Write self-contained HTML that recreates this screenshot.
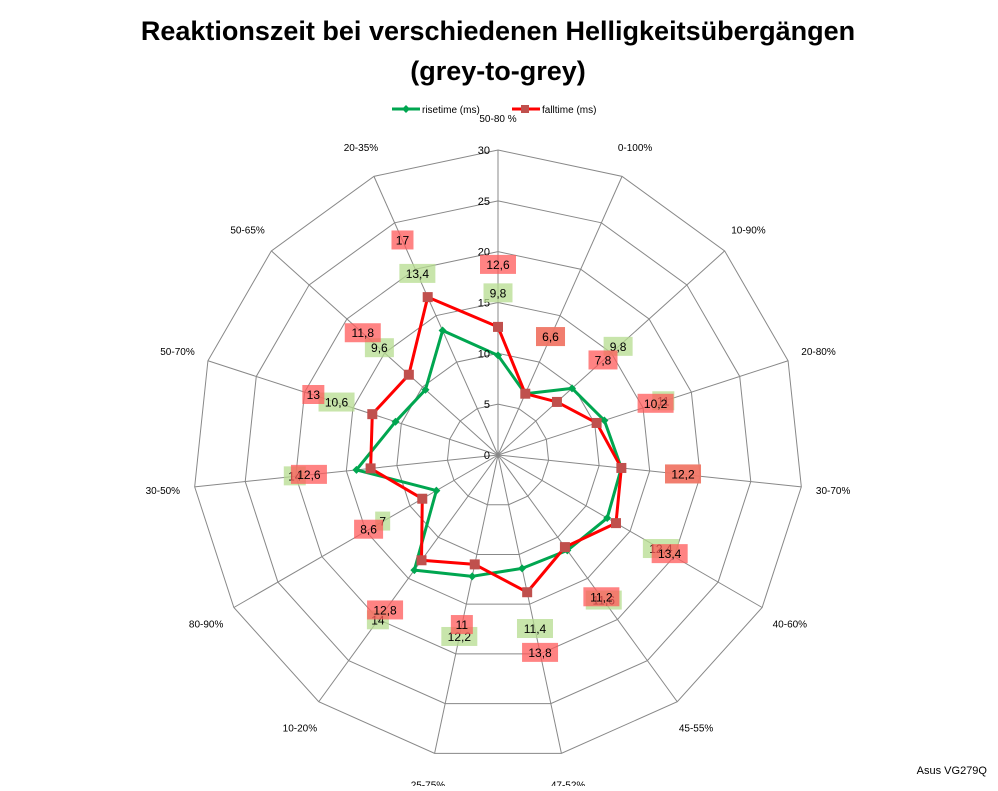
<!DOCTYPE html>
<html><head><meta charset="utf-8"><style>
body{margin:0;background:#fff;}
svg text{font-family:"Liberation Sans",sans-serif;}
</style></head><body>
<svg id="chart" width="998" height="786" viewBox="0 0 998 786" xmlns="http://www.w3.org/2000/svg">
<text x="498" y="40" text-anchor="middle" font-size="27" font-weight="bold">Reaktionszeit bei verschiedenen Helligkeitsübergängen</text>
<text x="498" y="80" text-anchor="middle" font-size="27" font-weight="bold">(grey-to-grey)</text>
<g>
<g>
<line x1="392" y1="109" x2="420" y2="109" stroke="#00a650" stroke-width="3"/>
<path d="M406 105 L410 109 L406 113 L402 109Z" fill="#00a650"/>
<text x="422" y="113" font-size="10">risetime (ms)</text></g>
<g>
<line x1="512" y1="109" x2="540" y2="109" stroke="#ff0000" stroke-width="3"/>
<rect x="521" y="105" width="8" height="8" fill="#c0504d"/>
<text x="542" y="113" font-size="10">falltime (ms)</text></g>
</g>
<g id="grid"></g><g id="series"></g><g id="labels"></g>
<text x="987" y="774" text-anchor="end" font-size="11">Asus VG279Q</text>
</svg>
<script>
const categories=["50-80 %","0-100%","10-90%","20-80%","30-70%","40-60%","45-55%","47-52%","25-75%","10-20%","80-90%","30-50%","50-70%","50-65%","20-35%"];
const risetime=[9.8,6.6,9.8,11,12.2,12.4,11.6,11.4,12.2,14,7,14,10.6,9.6,13.4];
const falltime=[12.6,6.6,7.8,10.2,12.2,13.4,11.2,13.8,11,12.8,8.6,12.6,13,11.8,17];
const ticks=[0,5,10,15,20,25,30];
const NS="http://www.w3.org/2000/svg";
const cx=498,cy=455,R=305,maxV=30;
function rad(v){return v/maxV*R;}
function pt(i,r){const a=i*2*Math.PI/categories.length;return [cx+r*Math.sin(a),cy-r*Math.cos(a)];}
function mk(tag,attrs,parent){const e=document.createElementNS(NS,tag);for(const k in attrs)e.setAttribute(k,attrs[k]);parent.appendChild(e);return e;}
const grid=document.getElementById('grid'),series=document.getElementById('series'),labels=document.getElementById('labels');
const n=categories.length;
ticks.forEach(t=>{if(t===0)return;
 const p=[];for(let i=0;i<n;i++)p.push(pt(i,rad(t)).join(','));
 const g=mk('polygon',{points:p.join(' '),fill:'none',stroke:'#888','stroke-width':1},grid);
 
 
});
categories.forEach((c,i)=>{
 const e=pt(i,R);
 const l=mk('line',{x1:cx,y1:cy,x2:e[0],y2:e[1],stroke:'#888','stroke-width':1},grid);
 
 
 const q=pt(i,R+32);
 const t=mk('text',{x:q[0],y:q[1]+4,'text-anchor':'middle','font-size':10},labels);
 t.textContent=c;
 
 
});
ticks.forEach(t=>{
 const tx=mk('text',{x:cx-8,y:cy-rad(t)+4,'text-anchor':'end','font-size':11},labels);
 tx.textContent=t;
 
 
});
function draw(vals,color,mcolor,name,sq){
 const pts=vals.map((v,i)=>pt(i,rad(v)));
 const pl=mk('polygon',{points:pts.map(p=>p.join(',')).join(' '),fill:'none',stroke:color,'stroke-width':3,'stroke-linejoin':'round'},series);
 
 
 pts.forEach((p,i)=>{
  let m;
  if(sq)m=mk('rect',{x:p[0]-5,y:p[1]-5,width:10,height:10,fill:mcolor},series);
  else m=mk('path',{d:`M${p[0]} ${p[1]-4}L${p[0]+4} ${p[1]}L${p[0]} ${p[1]+4}L${p[0]-4} ${p[1]}Z`,fill:mcolor},series);
  
  
 });
}
function dlabels(vals,bg,name){
 vals.forEach((v,i)=>{
  const p=pt(i,rad(v)+62);
  const s=String(v).replace('.',',');
  const w=s.length*7+8;
  const r=mk('rect',{x:p[0]-w/2,y:p[1]-10,width:w,height:19,fill:bg,'fill-opacity':0.75},labels);
  
  
  const t=mk('text',{x:p[0],y:p[1]+4,'text-anchor':'middle','font-size':12},labels);
  t.textContent=s;
  
  
 });
}
draw(risetime,'#00a650','#00a650','risetime',false);
draw(falltime,'#ff0000','#c0504d','falltime',true);
dlabels(risetime,'#b5dc8f','risetime');
dlabels(falltime,'#ff5a5a','falltime');
</script>
</body></html>
